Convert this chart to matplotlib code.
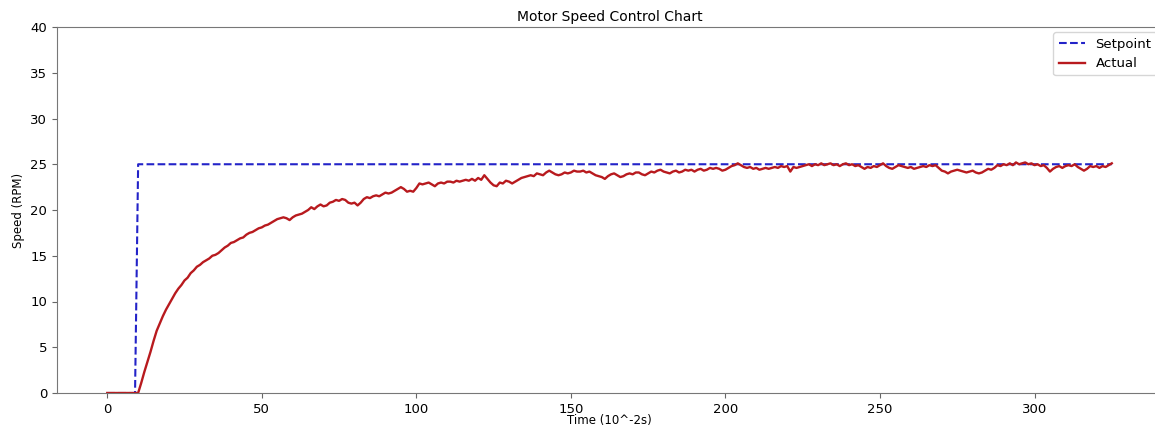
import numpy as np
import matplotlib
matplotlib.use("Agg")
from matplotlib import pyplot as plt

# time axis in 10^-2 s, one sample per step
time = np.arange(0, 326)

step_time = 10
setpoint_level = 25

# actual speed (RPM)
actual = [
    0.0, 0.0, 0.0, 0.0, 0.0, 0.0, 0.0, 0.0, 0.0, 0.0,
    0.0, 1.1, 2.3, 3.4, 4.5, 5.7, 6.8, 7.6, 8.4, 9.1,
    9.7, 10.3, 10.9, 11.4, 11.8, 12.3, 12.6, 13.1, 13.4, 13.8,
    14.0, 14.3, 14.5, 14.7, 15.0, 15.1, 15.3, 15.6, 15.9, 16.1,
    16.4, 16.5, 16.7, 16.9, 17.0, 17.3, 17.5, 17.6, 17.8, 18.0,
    18.1, 18.3, 18.4, 18.6, 18.8, 19.0, 19.1, 19.2, 19.1, 18.9,
    19.2, 19.4, 19.5, 19.6, 19.8, 20.0, 20.3, 20.1, 20.4, 20.6,
    20.4, 20.5, 20.8, 20.9, 21.1, 21.0, 21.2, 21.1, 20.8, 20.7,
    20.8, 20.5, 20.8, 21.2, 21.4, 21.3, 21.5, 21.6, 21.5, 21.7,
    21.9, 21.8, 21.9, 22.1, 22.3, 22.5, 22.3, 22.0, 22.1, 22.0,
    22.4, 22.9, 22.8, 22.9, 23.0, 22.8, 22.6, 22.9, 23.0, 22.9,
    23.1, 23.1, 23.0, 23.2, 23.1, 23.2, 23.3, 23.2, 23.4, 23.2,
    23.5, 23.3, 23.8, 23.4, 23.0, 22.7, 22.6, 23.0, 22.9, 23.2,
    23.1, 22.9, 23.1, 23.3, 23.5, 23.6, 23.7, 23.8, 23.7, 24.0,
    23.9, 23.8, 24.1, 24.3, 24.1, 23.9, 23.8, 23.9, 24.1, 24.0,
    24.1, 24.3, 24.2, 24.2, 24.3, 24.1, 24.2, 24.0, 23.8, 23.7,
    23.6, 23.4, 23.7, 23.9, 24.0, 23.8, 23.6, 23.7, 23.9, 24.0,
    23.9, 24.1, 24.1, 23.9, 23.8, 24.0, 24.2, 24.1, 24.3, 24.4,
    24.2, 24.1, 24.0, 24.2, 24.3, 24.1, 24.2, 24.4, 24.3, 24.4,
    24.2, 24.4, 24.5, 24.3, 24.4, 24.6, 24.5, 24.6, 24.5, 24.3,
    24.4, 24.6, 24.8, 24.9, 25.1, 24.9, 24.7, 24.6, 24.7, 24.5,
    24.6, 24.4, 24.5, 24.6, 24.5, 24.6, 24.7, 24.6, 24.8, 24.7,
    24.8, 24.2, 24.7, 24.6, 24.7, 24.8, 24.9, 25.0, 24.8, 25.0,
    24.9, 25.1, 24.9, 25.0, 25.1, 24.9, 25.0, 24.8, 25.0, 25.1,
    24.9, 25.0, 24.8, 24.9, 24.7, 24.5, 24.7, 24.6, 24.8, 24.7,
    24.9, 25.1, 24.8, 24.6, 24.5, 24.7, 24.9, 24.8, 24.7, 24.6,
    24.7, 24.5, 24.6, 24.7, 24.8, 24.7, 24.9, 24.8, 24.9, 24.6,
    24.3, 24.2, 24.0, 24.2, 24.3, 24.4, 24.3, 24.2, 24.1, 24.2,
    24.3, 24.1, 24.0, 24.1, 24.3, 24.5, 24.4, 24.6, 24.9, 24.8,
    25.0, 24.9, 25.1, 24.9, 25.2, 25.0, 25.1, 25.2, 25.0, 25.1,
    24.9, 25.0, 24.8, 24.9, 24.6, 24.2, 24.5, 24.7, 24.8, 24.6,
    24.8, 24.9, 24.8, 25.0, 24.7, 24.5, 24.3, 24.5, 24.8, 24.7,
    24.8, 24.6, 24.8, 24.7, 24.9, 25.1,
]

setpoint = np.where(time >= step_time, setpoint_level, 0)

fig = plt.figure(figsize=(11.55, 4.28), dpi=100)
# axes run slightly past the right edge, like the cropped original
ax = fig.add_axes([57/1155, 35/428, 1105/1155, 366/428])

ax.plot(time, setpoint, linestyle="--", color="#2323c8", lw=1.5, label="Setpoint")
ax.plot(time, actual, color="#b81a1e", lw=1.7, label="Actual")

ax.set_ylim(0, 40)
ax.set_yticks(np.arange(0, 41, 5))
ax.set_title("Motor Speed Control Chart", fontsize=10, pad=4)
ax.set_xlabel("Time (10^-2s)", fontsize=8.5, labelpad=-1)
ax.set_ylabel("Speed (RPM)", fontsize=8.5)
ax.tick_params(labelsize=9.5, color="#666666")
for sp in ax.spines.values():
    sp.set_color("#777777")
ax.legend(loc="upper right", fontsize=9.5, borderaxespad=0.4)

plt.savefig("out.png", dpi=100)
